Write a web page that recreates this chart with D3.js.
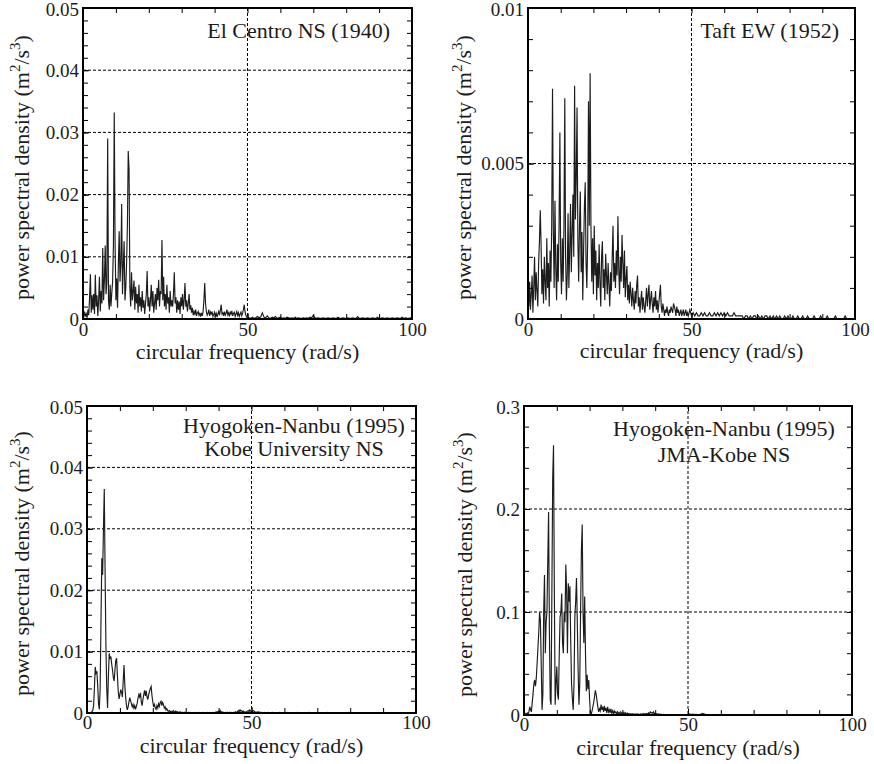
<!DOCTYPE html>
<html><head><meta charset="utf-8">
<script src="https://cdn.jsdelivr.net/npm/d3@7"></script>
<style>body{margin:0;background:#fff}svg{display:block}</style>
</head><body>
<svg id="chart" width="874" height="764"></svg>
<script>
// ---------------- DATA ----------------
// Low band: 0 .. 50 rad/s sampled every 0.25 rad/s; high band: 50.5 .. 100 rad/s every 0.5 rad/s
const lowBandStart = 0, lowBandStep = 0.25;
const highBandStart = 50.5, highBandStep = 0.5;

const elCentroLow = [
 .0000,.0003,.0012,.0004, .0008,.0002,.0015,.0006, .0035,.0072,.0010,.0038, .0015,.0040,.0008,.0071,
 .0020,.0038,.0005,.0030, .0068,.0012,.0045,.0025, .0114,.0030,.0062,.0118, .0040,.0060,.0290,.0030,
 .0015,.0055,.0020,.0042, .0060,.0120,.0332,.0124, .0030,.0065,.0018,.0090, .0141,.0060,.0090,.0185,
 .0040,.0085,.0125,.0030, .0050,.0090,.0152,.0270, .0240,.0050,.0020,.0075, .0030,.0045,.0062,.0015,
 .0052,.0025,.0040,.0010, .0055,.0020,.0035,.0012, .0045,.0018,.0030,.0008, .0025,.0040,.0077,.0020,
 .0035,.0012,.0030,.0055, .0020,.0045,.0010,.0025, .0040,.0015,.0050,.0030, .0063,.0020,.0045,.0040,
 .0127,.0030,.0068,.0020, .0040,.0015,.0055,.0025, .0035,.0010,.0045,.0020, .0030,.0020,.0040,.0075,
 .0025,.0035,.0010,.0030, .0015,.0028,.0008,.0035, .0020,.0040,.0015,.0030, .0058,.0020,.0030,.0012,
 .0025,.0040,.0015,.0022, .0010,.0018,.0006,.0012, .0008,.0015,.0005,.0010, .0012,.0006,.0009,.0004,
 .0010,.0005,.0012,.0030, .0058,.0025,.0012,.0006, .0009,.0015,.0005,.0011, .0008,.0012,.0004,.0007,
 .0011,.0005,.0009,.0003, .0008,.0012,.0006,.0014, .0023,.0008,.0010,.0005, .0012,.0006,.0009,.0015,
 .0007,.0010,.0004,.0012, .0008,.0013,.0005,.0009, .0011,.0004,.0008,.0012, .0006,.0010,.0004,.0008,
 .0011,.0005,.0009,.0015, .0023,.0012,.0006,.0003, .0002];
const elCentroHigh = [
 .0002,.0001,.0003,.0001,.0002,.0004,.0002,.0003,.0010,.0003, .0002,.0005,.0002,.0001,.0003,.0002,.0004,.0001,.0002,.0003,
 .0001,.0002,.0001,.0003,.0002,.0001,.0002,.0001,.0003,.0001, .0002,.0001,.0001,.0002,.0001,.0002,.0001,.0003,.0002,.0006,
 .0002,.0001,.0002,.0001,.0001,.0002,.0001,.0001,.0002,.0001, .0001,.0002,.0001,.0001,.0003,.0001,.0001,.0002,.0001,.0001,
 .0002,.0001,.0001,.0002,.0001,.0001,.0004,.0001,.0001,.0002, .0001,.0001,.0002,.0001,.0001,.0002,.0001,.0001,.0003,.0001,
 .0001,.0002,.0001,.0001,.0002,.0001,.0001,.0002,.0001,.0001, .0002,.0001,.0001,.0003,.0001,.0002,.0001,.0001,.0002,.0001];

const taftLow = [
 .0010,.0004,.0012,.0003, .0008,.0014,.0002,.0010, .0020,.0006,.0015,.0009, .0004,.0018,.0025,.0035,
 .0024,.0008,.0016,.0005, .0020,.0012,.0006,.0026, .0010,.0018,.0004,.0022, .0012,.0030,.0074,.0028,
 .0010,.0038,.0016,.0006, .0024,.0012,.0030,.0060, .0018,.0008,.0026,.0012, .0030,.0071,.0020,.0006,
 .0014,.0034,.0010,.0022, .0037,.0015,.0028,.0040, .0020,.0075,.0032,.0045, .0068,.0025,.0012,.0030,
 .0041,.0015,.0028,.0006, .0022,.0036,.0044,.0018, .0010,.0025,.0070,.0030, .0079,.0030,.0012,.0026,
 .0008,.0030,.0014,.0022, .0006,.0018,.0010,.0024, .0012,.0004,.0020,.0025, .0010,.0016,.0006,.0021,
 .0014,.0008,.0018,.0011, .0004,.0015,.0009,.0020, .0030,.0012,.0018,.0010, .0022,.0014,.0033,.0016,
 .0008,.0020,.0012,.0027, .0018,.0010,.0022,.0007, .0013,.0017,.0006,.0011, .0005,.0012,.0008,.0004,
 .0010,.0006,.0003,.0009, .0005,.0011,.0014,.0004, .0007,.0002,.0006,.0009, .0003,.0007,.0004,.0002,
 .0006,.0010,.0004,.0008, .0011,.0003,.0006,.0009, .0005,.0002,.0007,.0004, .0009,.0003,.0006,.0002,
 .0005,.0008,.0011,.0004, .0002,.0005,.0003,.0001, .0003,.0002,.0004,.0002, .0001,.0003,.0002,.0004,
 .0003,.0002,.0005,.0004, .0003,.0001,.0004,.0002, .0003,.0001,.0002,.0003, .0001,.0002,.0003,.0001,
 .0002,.0003,.0001,.0002, .0001,.0002,.0003,.0002, .0001];
const taftHigh = [
 .0002,.0001,.0002,.0001,.0001,.0002,.0001,.0002,.0001,.0001, .0002,.0001,.0001,.0002,.0001,.0002,.0001,.0002,.0001,.0002,
 .0001,.0002,.0001,.0001,.0001,.0002,.0001,.0001,.0001,.0001, .0001,.0000,.0001,.0001,.0000,.0001,.0000,.0001,.0001,.0000,
 .0001,.0000,.0001,.0000,.0001,.0001,.0000,.0001,.0000,.0001, .0000,.0001,.0000,.0001,.0000,.0000,.0001,.0000,.0001,.0000,
 .0000,.0001,.0000,.0000,.0001,.0000,.0000,.0001,.0000,.0000, .0001,.0000,.0000,.0000,.0001,.0000,.0000,.0000,.0001,.0000,
 .0000,.0000,.0001,.0000,.0000,.0000,.0000,.0001,.0000,.0000, .0000,.0000,.0000,.0001,.0000,.0000,.0000,.0000,.0000,.0000];

const kobeUnivLow = [
 .0000,.0000,.0000,.0000, .0000,.0001,.0002,.0004, .0012,.0040,.0075,.0065, .0068,.0045,.0015,.0006,
 .0040,.0150,.0252,.0225, .0300,.0365,.0230,.0110, .0040,.0008,.0060,.0097, .0088,.0092,.0080,.0070,
 .0058,.0052,.0070,.0086, .0089,.0060,.0035,.0023, .0030,.0038,.0034,.0026, .0052,.0078,.0045,.0025,
 .0012,.0005,.0010,.0018, .0025,.0020,.0015,.0010, .0014,.0008,.0012,.0006, .0011,.0016,.0024,.0030,
 .0026,.0033,.0018,.0012, .0022,.0030,.0037,.0028, .0036,.0026,.0022,.0030, .0035,.0040,.0043,.0028,
 .0018,.0010,.0014,.0008, .0006,.0012,.0008,.0015, .0011,.0017,.0019,.0012, .0017,.0014,.0008,.0010,
 .0005,.0007,.0004,.0003, .0004,.0002,.0003,.0001, .0002,.0004,.0002,.0001, .0003,.0001,.0002,.0001,
 .0001,.0002,.0001,.0001, .0001,.0000,.0001,.0001, .0000,.0001,.0000,.0001, .0001,.0000,.0001,.0000,
 .0000,.0001,.0000,.0000, .0001,.0000,.0000,.0001, .0000,.0001,.0000,.0000, .0001,.0000,.0001,.0000,
 .0000,.0001,.0000,.0001, .0000,.0001,.0000,.0000, .0001,.0000,.0001,.0000, .0001,.0002,.0001,.0002,
 .0003,.0002,.0004,.0001, .0002,.0001,.0001,.0000, .0001,.0000,.0001,.0001, .0000,.0001,.0001,.0000,
 .0001,.0000,.0001,.0001, .0001,.0002,.0001,.0002, .0004,.0002,.0005,.0003, .0004,.0002,.0003,.0001,
 .0002,.0001,.0002,.0003, .0004,.0002,.0005,.0003, .0002];
const kobeUnivHigh = [
 .0004,.0002,.0001,.0002,.0001,.0001,.0000,.0001,.0000,.0001, .0000,.0000,.0001,.0000,.0000,.0000,.0001,.0000,.0000,.0000,
 .0000,.0001,.0000,.0000,.0000,.0000,.0000,.0001,.0000,.0000, .0000,.0000,.0000,.0000,.0001,.0000,.0000,.0000,.0000,.0000,
 .0000,.0000,.0000,.0000,.0000,.0001,.0000,.0000,.0000,.0000, .0000,.0000,.0000,.0000,.0000,.0000,.0000,.0000,.0001,.0000,
 .0000,.0000,.0000,.0000,.0000,.0000,.0000,.0000,.0000,.0000, .0000,.0000,.0000,.0000,.0000,.0000,.0000,.0000,.0000,.0000,
 .0000,.0000,.0000,.0000,.0000,.0000,.0000,.0000,.0000,.0000, .0000,.0000,.0000,.0000,.0000,.0000,.0000,.0000,.0000,.0000];

const jmaKobeLow = [
 .0000,.0020,.0005,.0010, .0020,.0008,.0030,.0080, .0050,.0030,.0120,.0200, .0300,.0340,.0280,.0360,
 .0500,.0650,.0800,.1000, .0920,.0500,.0050,.0200, .1000,.1360,.0600,.0900, .1000,.1500,.1970,.0800,
 .0150,.0100,.1200,.2300, .2620,.1200,.0100,.0300, .0470,.0200,.0150,.0600, .0950,.1000,.1180,.0700,
 .0600,.1000,.0900,.1460, .1200,.0600,.1280,.1100, .1250,.0700,.0300,.0160, .0050,.0300,.0950,.1100,
 .1330,.0900,.0440,.0100, .0300,.1000,.1600,.1850, .1000,.0700,.1150,.0600, .0230,.0390,.0250,.0340,
 .0150,.0020,.0010,.0040, .0080,.0120,.0180,.0240, .0200,.0140,.0080,.0030, .0060,.0040,.0100,.0050,
 .0080,.0030,.0090,.0040, .0070,.0020,.0080,.0030, .0050,.0020,.0060,.0020, .0040,.0010,.0040,.0020,
 .0030,.0010,.0030,.0010, .0025,.0010,.0030,.0015, .0020,.0010,.0025,.0010, .0020,.0008,.0018,.0010,
 .0015,.0006,.0012,.0008, .0012,.0005,.0010,.0006, .0010,.0004,.0012,.0005, .0008,.0004,.0010,.0005,
 .0010,.0006,.0014,.0008, .0012,.0007,.0015,.0010, .0020,.0012,.0030,.0020, .0025,.0015,.0030,.0012,
 .0015,.0008,.0012,.0006, .0010,.0005,.0008,.0004, .0006,.0003,.0006,.0004, .0005,.0002,.0004,.0003,
 .0004,.0002,.0004,.0002, .0003,.0002,.0003,.0002, .0003,.0001,.0002,.0002, .0002,.0001,.0002,.0001,
 .0002,.0001,.0002,.0001, .0002,.0001,.0001,.0001, .0001];
const jmaKobeHigh = [
 .0010,.0005,.0008,.0004,.0006,.0003,.0005,.0010,.0015,.0008, .0004,.0003,.0005,.0002,.0003,.0002,.0004,.0002,.0001,.0002,
 .0001,.0002,.0001,.0001,.0002,.0001,.0001,.0001,.0002,.0001, .0001,.0001,.0000,.0001,.0001,.0000,.0001,.0000,.0001,.0000,
 .0000,.0001,.0000,.0000,.0001,.0000,.0000,.0000,.0001,.0000, .0000,.0000,.0000,.0001,.0000,.0000,.0000,.0000,.0000,.0000,
 .0000,.0000,.0000,.0000,.0000,.0000,.0000,.0000,.0000,.0000, .0000,.0000,.0000,.0000,.0000,.0000,.0000,.0000,.0000,.0000,
 .0000,.0000,.0000,.0000,.0000,.0000,.0000,.0000,.0000,.0000, .0000,.0000,.0000,.0000,.0000,.0000,.0000,.0000,.0000,.0000];

// Tick values and labels
const xMajorTicks = [0, 50, 100];
const xMajorLabels = ["0", "50", "100"];
const xMinorStep = 10;
const yTicksA = [0, 0.01, 0.02, 0.03, 0.04, 0.05];
const yLabelsA = ["0", "0.01", "0.02", "0.03", "0.04", "0.05"];
const yTicksTaft = [0, 0.005, 0.01];
const yLabelsTaft = ["0", "0.005", "0.01"];
const yTicksJma = [0, 0.1, 0.2, 0.3];
const yLabelsJma = ["0", "0.1", "0.2", "0.3"];

const titlesElCentro = ["El Centro NS (1940)"];
const titlesTaft = ["Taft EW (1952)"];
const titlesKobeUniv = ["Hyogoken-Nanbu (1995)", "Kobe University NS"];
const titlesJma = ["Hyogoken-Nanbu (1995)", "JMA-Kobe NS"];
const xAxisTitle = "circular frequency (rad/s)";

// ---------------- LAYOUT ----------------
const FONT = "'Liberation Serif','Times New Roman',Times,serif";
const INK = "#1c1c1c";
const panels = [
  {low: elCentroLow, high: elCentroHigh, yTicks: yTicksA, yLabels: yLabelsA, yMinor: 0.002, titles: titlesElCentro,
   box: {l: 83, t: 8, r: 412, b: 319}, yTitleX: 29, xTitleY: 359, xPad: 3, title: {x: 390, y: 38, anchor: "end", gap: 0}},
  {low: taftLow, high: taftHigh, yTicks: yTicksTaft, yLabels: yLabelsTaft, yMinor: 0.001, titles: titlesTaft,
   box: {l: 528, t: 8, r: 855, b: 319}, yTitleX: 471, xTitleY: 358, xPad: 3, title: {x: 839, y: 38, anchor: "end", gap: 0}},
  {low: kobeUnivLow, high: kobeUnivHigh, yTicks: yTicksA, yLabels: yLabelsA, yMinor: 0.002, titles: titlesKobeUniv,
   box: {l: 87, t: 406, r: 416, b: 713}, yTitleX: 29, xTitleY: 753, xPad: 2, title: {x: 294, y: 433, anchor: "middle", gap: 23}},
  {low: jmaKobeLow, high: jmaKobeHigh, yTicks: yTicksJma, yLabels: yLabelsJma, yMinor: 0.02, titles: titlesJma,
   box: {l: 524, t: 406, r: 852, b: 715}, yTitleX: 472, xTitleY: 755, xPad: 2, title: {x: 724, y: 436, anchor: "middle", gap: 26}}
];

const svg = d3.select("#chart");
svg.append("rect").attr("width", 874).attr("height", 764).attr("fill", "#fff");

panels.forEach((p, pi) => {
  const {l, t, r, b} = p.box;
  const yMax = p.yTicks[p.yTicks.length - 1];
  const x = d3.scaleLinear().domain([0, 100]).range([l, r]);
  const y = d3.scaleLinear().domain([0, yMax]).range([b, t]);
  const g = svg.append("g");

  const pts = p.low.map((v, i) => [lowBandStart + i * lowBandStep, v])
    .concat(p.high.map((v, i) => [highBandStart + i * highBandStep, v]));

  const cid = "clip" + pi;
  svg.append("clipPath").attr("id", cid).append("rect")
    .attr("x", l).attr("y", t).attr("width", r - l).attr("height", b - t);

  // grid (dashed) at interior major ticks and x = 50
  const gridY = p.yTicks.filter(v => v > 0 && v < yMax);
  g.selectAll(".gy").data(gridY).join("line")
    .attr("x1", l).attr("x2", r).attr("y1", d => y(d)).attr("y2", d => y(d))
    .attr("stroke", "#000").attr("stroke-width", 1).attr("stroke-dasharray", "3,2");
  g.selectAll(".gx").data([50]).join("line")
    .attr("x1", d => x(d)).attr("x2", d => x(d)).attr("y1", t).attr("y2", b)
    .attr("stroke", "#000").attr("stroke-width", 1).attr("stroke-dasharray", "3,2");

  // spectrum
  const line = d3.line().x(d => x(d[0])).y(d => y(d[1]));
  g.append("path").datum(pts).attr("d", line).attr("clip-path", `url(#${cid})`)
    .attr("fill", "none").attr("stroke", INK).attr("stroke-width", 1.15).attr("stroke-linejoin", "miter");

  // minor ticks
  const yMinorTicks = d3.range(0, yMax + 1e-12, p.yMinor);
  const xMinorTicks = d3.range(0, 100 + 1e-9, xMinorStep);
  const styleAxis = sel => {
    sel.select(".domain").remove();
    sel.selectAll(".tick line").attr("stroke", "#000").attr("stroke-width", 1);
    sel.selectAll("text").attr("font-family", FONT).attr("font-size", 19).attr("fill", INK);
  };
  g.append("g").attr("transform", `translate(${l},0)`)
    .call(d3.axisLeft(y).tickValues(yMinorTicks).tickFormat("").tickSize(-5)).call(styleAxis);
  g.append("g").attr("transform", `translate(${r},0)`)
    .call(d3.axisRight(y).tickValues(yMinorTicks).tickFormat("").tickSize(-5)).call(styleAxis);
  g.append("g").attr("transform", `translate(0,${b})`)
    .call(d3.axisBottom(x).tickValues(xMinorTicks).tickFormat("").tickSize(-5)).call(styleAxis);
  g.append("g").attr("transform", `translate(0,${t})`)
    .call(d3.axisTop(x).tickValues(xMinorTicks).tickFormat("").tickSize(-5)).call(styleAxis);

  // major labelled axes
  const yAx = g.append("g").attr("transform", `translate(${l},0)`)
    .call(d3.axisLeft(y).tickValues(p.yTicks).tickFormat((d, i) => p.yLabels[i]).tickSize(-6).tickPadding(4))
    .call(styleAxis);
  // keep the top label inside the picture
  yAx.selectAll(".tick text").filter(d => d === yMax).attr("dy", "0.32em").attr("y", 1.5);
  g.append("g").attr("transform", `translate(0,${b})`)
    .call(d3.axisBottom(x).tickValues(xMajorTicks).tickFormat((d, i) => xMajorLabels[i]).tickSize(-6).tickPadding(p.xPad))
    .call(styleAxis);

  // frame
  g.append("rect").attr("x", l).attr("y", t).attr("width", r - l).attr("height", b - t)
    .attr("fill", "none").attr("stroke", "#000").attr("stroke-width", 2);

  // axis titles
  g.append("text").attr("x", (l + r) / 2).attr("y", p.xTitleY).attr("text-anchor", "middle")
    .attr("font-family", FONT).attr("font-size", 22).attr("fill", INK).text(xAxisTitle);

  const cy = (t + b) / 2 + 4;
  const yt = g.append("text").attr("transform", `translate(${p.yTitleX},${cy}) rotate(-90)`)
    .attr("text-anchor", "middle").attr("font-family", FONT).attr("font-size", 22).attr("fill", INK);
  yt.append("tspan").text("power spectral density (m");
  yt.append("tspan").attr("dy", -9).attr("font-size", 15).text("2");
  yt.append("tspan").attr("dy", 9).text("/s");
  yt.append("tspan").attr("dy", -9).attr("font-size", 15).text("3");
  yt.append("tspan").attr("dy", 9).text(")");

  // panel title
  p.titles.forEach((s, i) => {
    g.append("text").attr("x", p.title.x).attr("y", p.title.y + i * p.title.gap)
      .attr("text-anchor", p.title.anchor).attr("font-family", FONT).attr("font-size", 22)
      .attr("fill", INK).text(s);
  });
});
</script>
</body></html>
